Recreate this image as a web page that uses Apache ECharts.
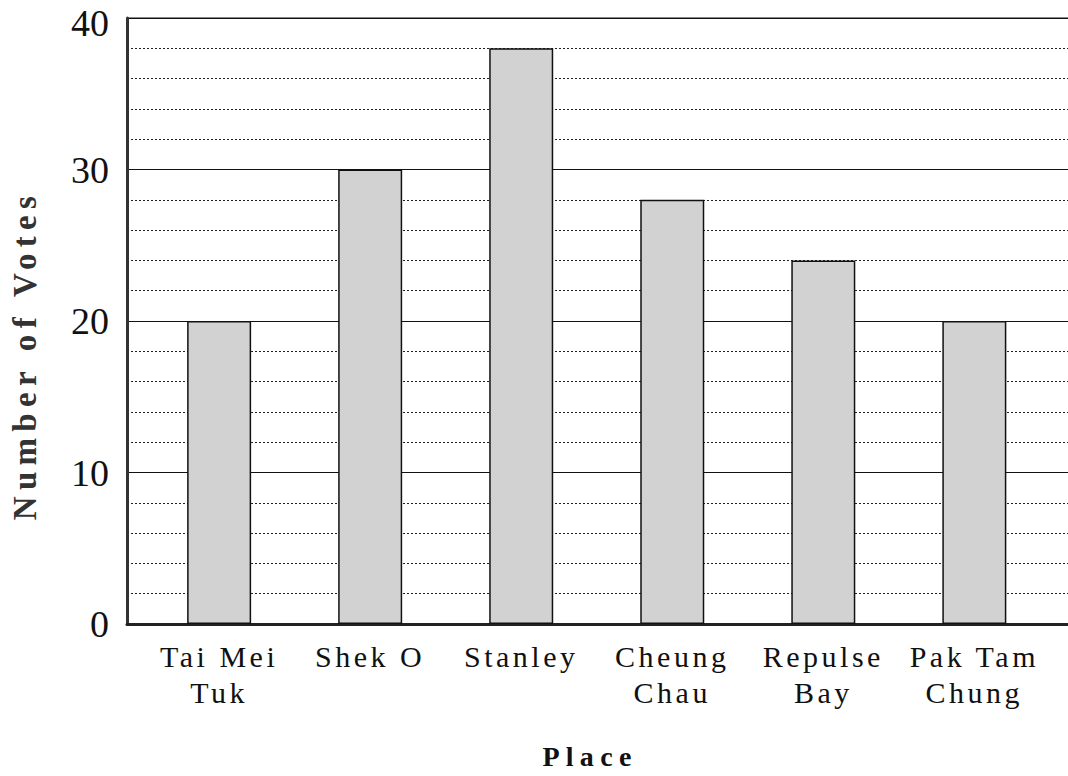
<!DOCTYPE html>
<html>
<head>
<meta charset="utf-8">
<script src="https://cdn.jsdelivr.net/npm/echarts@6/dist/echarts.min.js"></script>
<style>
  html, body { margin: 0; padding: 0; background: #fff; }
  #main { width: 1068px; height: 776px; }
  /* the original uses widely spaced serif lettering */
  #main text { letter-spacing: 3.5px; }
  #main text[style*="bold"] { letter-spacing: 6.3px; }
  #main text[style*="38px"] { letter-spacing: 0; }
</style>
</head>
<body>
<div id="main"></div>
<script>
// data
var places = ['Tai Mei\nTuk', 'Shek O', 'Stanley', 'Cheung\nChau', 'Repulse\nBay', 'Pak Tam\nChung'];
var votes = [20, 30, 38, 28, 24, 20];
var placeSlots = [0, 1, 2, 3, 4, 5];

var serif = 'Liberation Serif, Times New Roman, serif';

var chart = echarts.init(document.getElementById('main'), null, { renderer: 'svg' });
chart.setOption({
  animation: false,
  grid: {
    left: 127, right: -3, top: 18, bottom: 152,
    outerBoundsMode: 'none',
    show: true, borderColor: '#111', borderWidth: 1
  },
  xAxis: {
    type: 'value',
    min: -0.61,
    max: 5.64,
    name: 'Place',
    nameLocation: 'middle',
    nameGap: 118,
    nameTextStyle: {
      fontFamily: serif, fontSize: 28, fontWeight: 'bold', color: '#111',
      padding: [0, 18, 0, 0]
    },
    axisLine: { show: true, onZero: false, lineStyle: { color: '#222', width: 3 } },
    axisTick: { show: false },
    splitLine: { show: false },
    axisLabel: {
      customValues: placeSlots,
      formatter: function (v) { return places[Math.round(v)]; },
      fontFamily: serif, fontSize: 30, color: '#111',
      lineHeight: 36, margin: 14
    }
  },
  yAxis: {
    type: 'value',
    min: 0,
    max: 40,
    interval: 10,
    name: 'Number of Votes',
    nameLocation: 'middle',
    nameGap: 86,
    nameTextStyle: {
      fontFamily: serif, fontSize: 33, fontWeight: 'bold', color: '#333',
      padding: [0, 68, 0, 0]
    },
    axisLine: { show: true, onZero: false, lineStyle: { color: '#333', width: 3 } },
    axisTick: { show: false },
    axisLabel: {
      fontFamily: serif, fontSize: 38, color: '#111', margin: 18,
      formatter: function (v) { return v === 40 ? '{top|' + v + '}' : String(v); },
      rich: {
        top: { fontFamily: serif, fontSize: 38, color: '#111', padding: [10, 0, 0, 0] }
      }
    },
    splitLine: { show: true, lineStyle: { color: '#111', width: 1 } },
    minorTick: { show: false, splitNumber: 5 },
    minorSplitLine: { show: true, lineStyle: { color: '#222', width: 1, type: [2, 2] } }
  },
  series: [{
    type: 'bar',
    data: placeSlots.map(function (x, i) { return [x, votes[i]]; }),
    barWidth: 64,
    itemStyle: { color: '#d2d2d2', borderColor: '#111', borderWidth: 1.5 }
  }]
});
</script>
</body>
</html>
